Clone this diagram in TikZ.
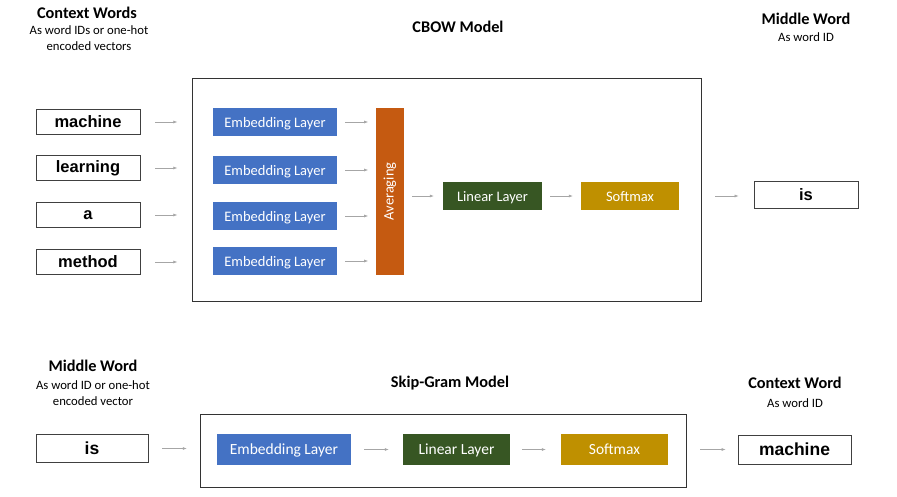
\documentclass[tikz,border=0pt]{standalone}
\usepackage{fontspec}
\setmainfont{Carlito}
\newfontfamily\wordfont{Liberation Sans}
\definecolor{embblue}{HTML}{4472C4}
\definecolor{avgorange}{HTML}{C55A11}
\definecolor{lingreen}{HTML}{375623}
\definecolor{smgold}{HTML}{BF9000}
\tikzset{
  wordbox/.style={draw=black!75, thick, fill=white, inner sep=0pt, font=\wordfont\bfseries\fontsize{16.5}{19}\selectfont},
  layerbox/.style={inner sep=0pt, text=white, text height=1em, text depth=0em, font=\fontsize{14.5}{17}\selectfont},
  modelbox/.style={draw=black!80, thick, inner sep=0pt},
  title/.style={font=\bfseries\fontsize{16.3}{19}\selectfont},
  subtitle/.style={align=center, font=\fontsize{12.7}{16}\selectfont},
  flow/.style={draw=black!35, -{Latex[length=4pt,width=3pt]}, semithick}
}
\usetikzlibrary{arrows.meta}
\begin{document}
\begin{tikzpicture}[x=1pt,y=-1pt]
  \useasboundingbox (0,0) rectangle (897,496);

  %CBOW
  \node[modelbox, minimum width=509, minimum height=223] (cbow) at (446.5,189.5) {};
  \node[title] (cbowt) at (458,27) {CBOW Model};
  \node[title] (ctxt) at (87,13) {Context Words};
  \node[subtitle] (ctxs) at (89,38) {As word IDs or one-hot\\encoded vectors};
  \node[title] (midt) at (806,19) {Middle Word};
  \node[subtitle] (mids) at (806,37) {As word ID};

  \node[wordbox, minimum width=104, minimum height=25] (w1) at (88,122) {machine};
  \node[wordbox, minimum width=104, minimum height=25] (w2) at (88,168) {learning};
  \node[wordbox, minimum width=104, minimum height=25] (w3) at (88,215) {a};
  \node[wordbox, minimum width=104, minimum height=25] (w4) at (88,262) {method};

  \node[layerbox, fill=embblue, minimum width=124, minimum height=28] (e1) at (275,122) {Embedding Layer};
  \node[layerbox, fill=embblue, minimum width=124, minimum height=28] (e2) at (275,170) {Embedding Layer};
  \node[layerbox, fill=embblue, minimum width=124, minimum height=28] (e3) at (275,216) {Embedding Layer};
  \node[layerbox, fill=embblue, minimum width=124, minimum height=28] (e4) at (275,261) {Embedding Layer};

  \node[fill=avgorange, text=white, inner sep=0pt, minimum width=28, minimum height=167, font=\fontsize{14.5}{17}\selectfont] (avg) at (390,191.5) {\rotatebox{90}{Averaging}};
  \node[layerbox, fill=lingreen, minimum width=99, minimum height=28] (lin) at (492.5,196) {Linear Layer};
  \node[layerbox, fill=smgold, minimum width=98, minimum height=28] (sm) at (630,196) {Softmax};
  \node[wordbox, minimum width=104, minimum height=27] (out) at (806,194.5) {is};

  \foreach \i in {1,2,3,4} {
    \draw[flow] ([xshift=15]w\i.east) -- ([xshift=37]w\i.east);
    \draw[flow] ([xshift=8]e\i.east) -- ([xshift=31]e\i.east);
  }
  \draw[flow] ([xshift=8]avg.east |- lin.west) -- ([xshift=-9]lin.west);
  \draw[flow] ([xshift=8]lin.east) -- ([xshift=-8]sm.west);
  \draw[flow] ([xshift=36]sm.east) -- ([xshift=-15]out.west |- sm.east);

  %Skip-Gram
  \node[modelbox, minimum width=486, minimum height=73] (skip) at (443,450.5) {};
  \node[title] (skipt) at (450,383) {Skip-Gram Model};
  \node[title] (mid2t) at (93,366) {Middle Word};
  \node[subtitle] (mid2s) at (93,393) {As word ID or one-hot\\encoded vector};
  \node[title] (ctx2t) at (795,383) {Context Word};
  \node[subtitle] (ctx2s) at (795,403) {As word ID};

  \node[wordbox, minimum width=112, minimum height=28, font=\wordfont\bfseries\fontsize{17.5}{20}\selectfont] (in2) at (92,448.5) {is};
  \node[layerbox, fill=embblue, minimum width=134, minimum height=31, font=\fontsize{15.5}{18}\selectfont] (e5) at (284,449.5) {Embedding Layer};
  \node[layerbox, fill=lingreen, minimum width=107, minimum height=31, font=\fontsize{15.5}{18}\selectfont] (lin2) at (456.5,449.5) {Linear Layer};
  \node[layerbox, fill=smgold, minimum width=107, minimum height=31, font=\fontsize{15.5}{18}\selectfont] (sm2) at (614.5,449.5) {Softmax};
  \node[wordbox, minimum width=113, minimum height=29, font=\wordfont\bfseries\fontsize{17.5}{20}\selectfont] (out2) at (794.5,449.5) {machine};

  \draw[flow] ([xshift=14]in2.east) -- ([xshift=-30]e5.west |- in2.east);
  \draw[flow] ([xshift=13]e5.east) -- ([xshift=-14]lin2.west);
  \draw[flow] ([xshift=12]lin2.east) -- ([xshift=-15]sm2.west);
  \draw[flow] ([xshift=32]sm2.east) -- ([xshift=-12]out2.west);
\end{tikzpicture}
\end{document}
